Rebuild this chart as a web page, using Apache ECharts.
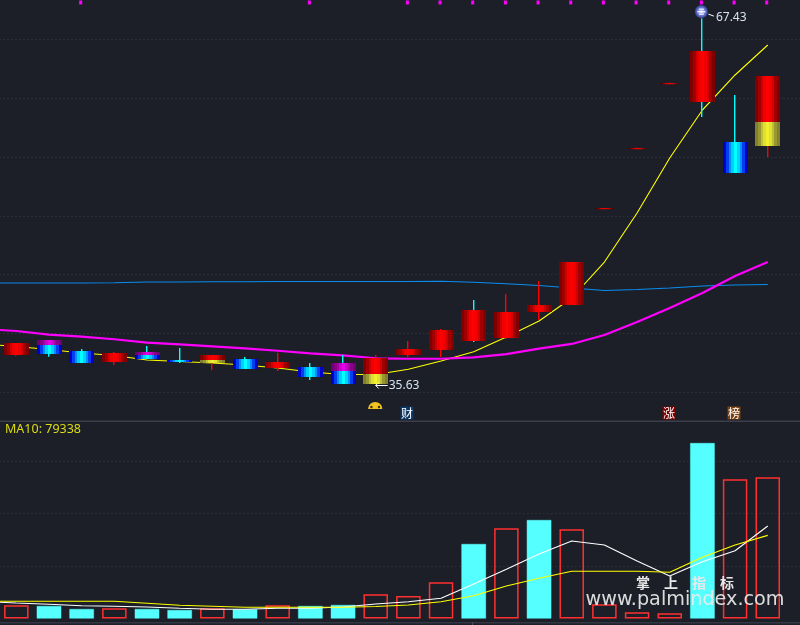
<!DOCTYPE html>
<html>
<head>
<meta charset="utf-8">
<style>html,body{margin:0;padding:0;background:#1c1f28}#c{width:800px;height:625px}</style>
<script src="https://cdn.jsdelivr.net/npm/echarts@6/dist/echarts.min.js"></script>
</head>
<body>
<div id="c"></div>
<script>
// ---- data (24 visible sessions; one lead-in and one trailing slot on the axis) ----
const categories = ['p','d1','d2','d3','d4','d5','d6','d7','d8','d9','d10','d11','d12','d13','d14','d15','d16','d17','d18','d19','d20','d21','d22','d23','d24','n'];
const bodyTop    = [39.17,39.43,38.49,38.32,38.40,37.72,38.15,37.81,37.55,37.13,37.47,37.89,38.66,40.28,41.98,41.81,42.40,46.06,50.67,55.78,61.31,64.02,56.28,61.89];
const bodyBottom = [38.15,38.23,37.47,37.58,37.81,37.55,37.44,36.96,37.04,36.28,35.68,35.68,38.15,38.57,39.34,39.60,41.81,42.40,50.59,55.70,61.23,59.68,53.64,55.94];
const bodySplit  = [null,39.0,null,null,38.15,null,37.72,null,null,null,36.79,36.53,null,null,null,null,null,null,null,null,null,null,null,57.98];
const wickHigh   = [39.17,39.43,38.66,38.40,38.91,38.74,38.15,37.98,38.34,37.47,38.15,38.15,39.34,40.36,42.83,43.34,44.45,46.06,50.67,55.78,61.31,67.43,60.28,61.89];
const wickLow    = [38.09,38.00,37.47,37.30,37.81,37.47,36.87,36.96,36.79,36.02,35.68,35.63,37.98,37.98,39.26,39.51,41.13,42.40,50.59,55.70,61.23,58.40,53.64,55.00];
const bodyRising = [1,0,0,1,0,0,1,0,1,0,0,1,1,1,1,1,1,1,1,1,1,1,0,1];
const wickRising = [1,0,0,1,0,0,1,0,1,0,0,1,1,1,0,1,1,1,1,1,1,0,0,1];
const priceMaA = [39.09,38.87,38.62,38.32,38.11,37.72,37.60,37.47,37.30,37.04,36.70,36.49,36.49,36.93,37.64,38.43,39.68,41.04,43.00,46.06,50.23,54.91,59.00,61.98,64.53,'-'];
const priceMaB = [40.36,40.19,39.88,39.71,39.49,39.20,39.06,38.89,38.72,38.51,38.29,38.12,37.87,37.83,37.83,37.95,38.23,38.69,39.09,39.85,40.96,42.15,43.43,44.87,46.06,'-'];
const priceMaC = [44.28,44.28,44.28,44.28,44.30,44.36,44.36,44.38,44.38,44.40,44.40,44.40,44.40,44.40,44.42,44.34,44.21,44.06,43.85,43.64,43.72,43.85,44.02,44.11,44.15,'-'];
const volumes = ['-',12593,11925,9063,9731,9063,8109,9731,8777,12593,11925,12879,23087,21465,34535,71073,86051,93969,85097,13547,5915,4961,167427,132797,134705,'-'];
const volumeHollow = [0,1,0,0,1,0,0,1,0,1,0,0,1,1,1,0,1,0,1,1,1,1,0,1,1,0];
const volMa5  = [16218,14787,13547,12116,11639,10971,9731,8777,8777,9731,9731,10971,13833,16027,19271,32913,46937,61533,73935,70119,54855,40545,54187,64681,88245,'-'];
const volMa10 = [16409,16409,16409,16409,16409,14501,12593,11639,10685,10685,10685,10685,11448,12879,16027,21751,31005,38351,45029,45029,45029,44075,58385,70119,79338,'-'];
const topMarkSlots = [3,10,13,14,15,16,17,18,19,20,21,22,23,24];
const topMarkLevel = 68.15;
const highNote = [22, 67.43];
const lowNote  = [12, 35.63];
const domeNote = [12, 33.55];
const badgeSlots = [13, 21, 23];
const badgeTexts = ['财','涨','榜'];
const badgeLevel = 33.2;
const priceTicks = {min:35, max:70, step:5};
const volumeTicks = {min:0, max:200000, step:50000};
const ma10Label = 'MA10: 79338';
const watermarkCn = '掌\u2003上\u2003指\u2003标';
const watermarkEn = 'www.palmindex.com';

// ---- drawing styles ----
const BG = '#1c1f28';
const PAL = {
  red: ['#800000','#a00000','#d00000','#f00000','#ff0000','#f00000','#d00000','#a00000','#800000'],
  blue:['#0000c8','#0040f0','#0090ff','#00d0ff','#00ffff','#00d0ff','#0090ff','#0040f0','#0000c8'],
  magenta:['#700070','#880088','#a800a8','#cc00cc','#e800e8','#cc00cc','#a800a8','#880088','#700070'],
  yellow:['#808030','#989830','#c0c030','#e0e030','#f0f030','#e0e030','#c0c030','#989830','#808030'],
  flat:['rgba(120,0,0,0)','#5a0000','#990000','#dd0000','#ff0000','#dd0000','#990000','#5a0000','rgba(120,0,0,0)']
};
function bands(name){
  const p = PAL[name], n = p.length, s = [];
  p.forEach((c,i)=>{ s.push({offset:i/n,color:c}); s.push({offset:(i+1)/n,color:c}); });
  return new echarts.graphic.LinearGradient(0,0,1,0,s);
}
const candleData = bodyTop.map((t,i)=>[i+1,t,bodyBottom[i],wickLow[i],wickHigh[i],bodySplit[i]==null?NaN:bodySplit[i],bodyRising[i],wickRising[i]]);

function renderCandle(params, api){
  const slot = api.value(0);
  const pt = v => api.coord([slot,v]);
  const cx = pt(api.value(1))[0];
  const yt = Math.round(pt(api.value(1))[1]), yb = Math.round(pt(api.value(2))[1]);
  const yl = pt(api.value(3))[1], yh = pt(api.value(4))[1];
  const split = api.value(5), rising = api.value(6), wickUp = api.value(7);
  const left = Math.round(cx-12.5), W = 25, kids = [];
  const wickColor = wickUp ? '#ff0000' : '#00ffff';
  kids.push({type:'rect',shape:{x:Math.round(cx)-1,y:yh,width:1.4,height:yl-yh},style:{fill:wickColor}});
  const flat = (yb-yt) < 2;
  if (flat) {
    kids.push({type:'rect',shape:{x:left,y:yt,width:W,height:1.2},style:{fill:bands('flat')}});
  } else if (!isNaN(split)) {
    const ys = Math.round(pt(split)[1]);
    kids.push({type:'rect',shape:{x:left,y:yt,width:W,height:ys-yt},style:{fill:bands(rising?'red':'magenta')}});
    kids.push({type:'rect',shape:{x:left,y:ys,width:W,height:yb-ys},style:{fill:bands(rising?'yellow':'blue')}});
  } else {
    kids.push({type:'rect',shape:{x:left,y:yt,width:W,height:yb-yt},style:{fill:bands(rising?'red':'blue')}});
  }
  return {type:'group',children:kids};
}
const NOTE_FONT = '12px "Noto Sans", sans-serif';
const NOTE_FILL = '#d6e4f2';
function renderHigh(params, api){
  const c = api.coord([api.value(0),api.value(1)]);
  const x=c[0]-1, y=c[1]+0.7;
  return {type:'group',children:[
    {type:'circle',shape:{cx:x,cy:y,r:6.8},style:{fill:new echarts.graphic.RadialGradient(0.5,0.5,0.5,[{offset:0,color:'#e8ecff'},{offset:0.45,color:'#8090e0'},{offset:0.8,color:'#4858b0'},{offset:1,color:'#252b50'}])}},
    {type:'rect',shape:{x:x-4,y:y-0.5,width:8,height:1.2},style:{fill:'#ffffff'}},
    {type:'rect',shape:{x:x-2.5,y:y-3,width:5,height:1},style:{fill:'#ffffff'}},
    {type:'rect',shape:{x:x-2.5,y:y+2,width:5,height:1},style:{fill:'#ffffff'}},
    {type:'line',shape:{x1:x+7,y1:y+2.5,x2:x+12.5,y2:y+4.5},style:{stroke:'#ffffff',lineWidth:1}},
    {type:'text',style:{text:String(api.value(1)),x:x+14.5,y:y+5.6,fill:NOTE_FILL,font:NOTE_FONT,align:'left',verticalAlign:'middle'}}
  ]};
}
function renderLow(params, api){
  const c = api.coord([api.value(0),api.value(1)]);
  const x=c[0], y=Math.round(c[1])+0.5;
  return {type:'group',children:[
    {type:'line',shape:{x1:x,y1:y,x2:x+12,y2:y},style:{stroke:'#ffffff',lineWidth:1}},
    {type:'polyline',shape:{points:[[x+3,y-3],[x,y],[x+3,y+3]]},style:{stroke:'#ffffff',fill:null,lineWidth:1}},
    {type:'text',style:{text:String(api.value(1)),x:x+13,y:y,fill:NOTE_FILL,font:NOTE_FONT,align:'left',verticalAlign:'middle'}}
  ]};
}
function renderDome(params, api){
  const c = api.coord([api.value(0),api.value(1)]);
  const x=c[0]-0.5, y=c[1];
  return {type:'group',children:[
    {type:'path',shape:{pathData:'M-7 0 C-7 -4 -4 -7 0 -7 C4 -7 7 -4 7 0 Z',x:x-7,y:y-7,width:14,height:7},style:{fill:'#f2c21e'}},
    {type:'circle',shape:{cx:x-3.8,cy:y-2,r:1.2},style:{fill:'#3a3020'}},
    {type:'circle',shape:{cx:x+3.8,cy:y-2,r:1.2},style:{fill:'#3a3020'}}
  ]};
}
const BADGE_FILL = ['#0b3766','#7d0000','#7a4210'];
function renderBadge(params, api){
  const c = api.coord([api.value(0),api.value(1)]);
  const x=Math.round(c[0])-1, y=Math.round(c[1]), k=params.dataIndex;
  return {type:'group',children:[
    {type:'rect',shape:{x:x-6.5,y:y-6.5,width:13,height:13},style:{fill:BADGE_FILL[k]}},
    {type:'text',style:{text:badgeTexts[k],x:x,y:y,fill:'#ffffff',font:'12px "Noto Sans CJK SC", sans-serif',align:'center',verticalAlign:'middle'}}
  ]};
}

const dotted = {show:true,lineStyle:{color:'#3a3e48',type:[1,3],width:1}};
const LEFT = -32.67, WIDTH = 849.42;
const lineSeries = (data,color,width,axis)=>({type:'line',data,xAxisIndex:axis,yAxisIndex:axis,symbol:'none',z:2,silent:true,
  lineStyle:{color,width},connectNulls:false});

const chart = echarts.init(document.getElementById('c'),null,{renderer:'canvas',width:800,height:625});
chart.setOption({
  animation:false,
  backgroundColor:BG,
  grid:[
    {left:LEFT,width:WIDTH,top:-19.25,height:411.25,show:false,outerBoundsMode:'none'},
    {left:LEFT,width:WIDTH,top:408.9,height:209.6,show:false,outerBoundsMode:'none'}
  ],
  xAxis:[
    {type:'category',data:categories,gridIndex:0,show:false},
    {type:'category',data:categories,gridIndex:1,show:false}
  ],
  yAxis:[
    {type:'value',gridIndex:0,min:priceTicks.min,max:priceTicks.max,interval:priceTicks.step,axisLine:{show:false},axisTick:{show:false},axisLabel:{show:false},splitLine:dotted},
    {type:'value',gridIndex:1,min:volumeTicks.min,max:volumeTicks.max,interval:volumeTicks.step,axisLine:{show:false},axisTick:{show:false},axisLabel:{show:false},
      splitLine:Object.assign({showMinLine:false,showMaxLine:false},dotted)}
  ],
  series:[
    lineSeries(priceMaC,'#0a8cee',1.1,0),
    lineSeries(priceMaA,'#ffff00',1.1,0),
    lineSeries(priceMaB,'#ff00ff',2.2,0),
    {type:'custom',xAxisIndex:0,yAxisIndex:0,z:3,silent:true,renderItem:renderCandle,data:candleData,encode:{x:0,y:[1,2,3,4]}},
    {type:'scatter',xAxisIndex:0,yAxisIndex:0,z:3,silent:true,symbol:'rect',symbolSize:[3,4],symbolOffset:[-1,0],itemStyle:{color:'#ff00ff',opacity:1},
      data:topMarkSlots.map(s=>[s,topMarkLevel])},
    {type:'custom',xAxisIndex:0,yAxisIndex:0,z:4,silent:true,renderItem:renderHigh,data:[highNote]},
    {type:'custom',xAxisIndex:0,yAxisIndex:0,z:4,silent:true,renderItem:renderLow,data:[lowNote]},
    {type:'custom',xAxisIndex:0,yAxisIndex:0,z:4,silent:true,renderItem:renderDome,data:[domeNote]},
    {type:'custom',xAxisIndex:0,yAxisIndex:0,z:4,silent:true,renderItem:renderBadge,data:badgeSlots.map(s=>[s,badgeLevel])},
    {type:'bar',xAxisIndex:1,yAxisIndex:1,barWidth:24.5,z:1,silent:true,
      data:volumes.map((v,i)=>({value:v,itemStyle:volumeHollow[i]?{color:'rgba(0,0,0,0)',borderColor:'#ff3030',borderWidth:1.5}:{color:'#55ffff',borderColor:'#55ffff',borderWidth:0.5}}))},
    lineSeries(volMa5,'#ffffff',1.1,1),
    lineSeries(volMa10,'#ffff00',1.1,1)
  ],
  graphic:[
    {type:'rect',shape:{x:0,y:420.5,width:800,height:1.4},style:{fill:'#3a3f4b'},silent:true},
    {type:'rect',shape:{x:0,y:622,width:800,height:1.4},style:{fill:'#333844'},silent:true},
    {type:'rect',shape:{x:472,y:622,width:1,height:3},style:{fill:'#4a4f5b'},silent:true},
    {type:'text',left:5,top:423,style:{text:ma10Label,fill:'#dcdc10',font:'12.5px "Noto Sans", sans-serif'},silent:true},
    {type:'text',z:50,style:{text:watermarkCn,x:685,y:583,fill:'#e8e8e8',font:'bold 14px "Noto Sans CJK SC", sans-serif',align:'center',verticalAlign:'middle'},silent:true},
    {type:'text',z:50,style:{text:watermarkEn,x:685,y:600,fill:'rgba(235,235,235,0.92)',font:'19.2px "DejaVu Sans", sans-serif',align:'center',verticalAlign:'middle'},silent:true}
  ]
});
</script>
</body>
</html>
